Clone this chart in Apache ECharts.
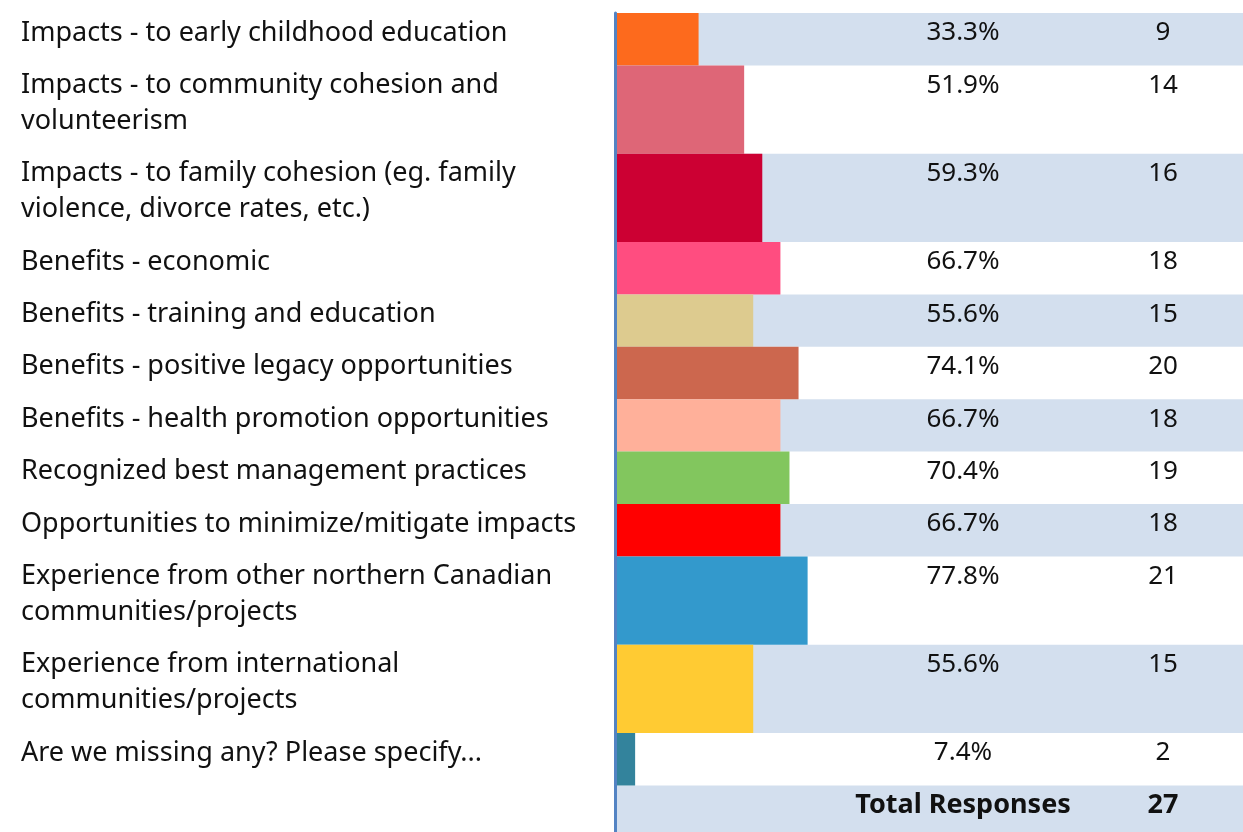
<!DOCTYPE html>
<html>
<head>
<meta charset="utf-8">
<title>Survey responses</title>
<script src="https://cdn.jsdelivr.net/npm/echarts@6/dist/echarts.min.js"></script>
<style>
  html, body { margin: 0; padding: 0; background: #fff; }
  #chart { width: 1243px; height: 832px; }
</style>
</head>
<body>
<div id="chart"></div>
<script>
// Survey items (line breaks follow the wrapped labels)
const categories = [
  'Impacts - to early childhood education',
  'Impacts - to community cohesion and\nvolunteerism',
  'Impacts - to family cohesion (eg. family\nviolence, divorce rates, etc.)',
  'Benefits - economic',
  'Benefits - training and education',
  'Benefits - positive legacy opportunities',
  'Benefits - health promotion opportunities',
  'Recognized best management practices',
  'Opportunities to minimize/mitigate impacts',
  'Experience from other northern Canadian\ncommunities/projects',
  'Experience from international\ncommunities/projects',
  'Are we missing any? Please specify...'
];
// Share of respondents (%)
const percents = [33.3, 51.9, 59.3, 66.7, 55.6, 74.1, 66.7, 70.4, 66.7, 77.8, 55.6, 7.4];
// Number of respondents
const counts = [9, 14, 16, 18, 15, 20, 18, 19, 18, 21, 15, 2];
const totalLabel = 'Total Responses';
const totalCount = 27;

// Bar palette, one colour per item
const barColors = ['#FD6A1D', '#DE6677', '#CC0033', '#FF4D80', '#DDCB8F', '#CC674E',
                   '#FFB09A', '#82C65E', '#FF0000', '#3399CC', '#FFCB33', '#33839C'];

// Layout
const CHART_W = 1243;
const CHART_H = 832;
const LINE_H = 35.9;       // text line height in px
const ROW_PAD = 16.5;      // extra space per row
const TEXT_DY = 2;         // text offset below the row top
const FONT = 'Noto Sans';
const LABEL_SIZE = 27;
const NUM_SIZE = 26;
const GRID_LEFT = 617;
const GRID_TOP = 13;
const PX_PER_PCT = 2.45;   // bar length for 1 %
const LABEL_X = 21;
const PCT_X = 963;
const COUNT_X = 1163;
const BAND_COLOR = '#D3DFEE';

// Row bands in y-axis units (one unit = one pixel of text layout)
const rowLabels = categories.concat(['']);
const tops = [];
const bottoms = [];
let acc = 0;
rowLabels.forEach(function (lab) {
  const lines = Math.max(1, lab.split('\n').length);
  tops.push(acc);
  acc += lines * LINE_H + ROW_PAD;
  bottoms.push(acc);
});
// the last (total) row runs off the bottom edge
const yMax = CHART_H - GRID_TOP;
const xMax = (CHART_W - GRID_LEFT) / PX_PER_PCT;

const rowData = rowLabels.map(function (_, i) { return [i, tops[i], Math.min(bottoms[i], yMax)]; });
const barData = percents.map(function (p, i) { return [p, tops[i], bottoms[i], i]; });

function txt(x, y, text, size, align, bold) {
  return {
    type: 'text', x: x, y: y + TEXT_DY,
    style: {
      text: text, fontFamily: FONT, fontSize: size, fontWeight: bold ? 'bold' : 'normal',
      fill: '#111', lineHeight: LINE_H, align: align, verticalAlign: 'top'
    }
  };
}

const chart = echarts.init(document.getElementById('chart'), null, { renderer: 'canvas' });
chart.setOption({
  animation: false,
  backgroundColor: '#fff',
  grid: { left: GRID_LEFT, top: GRID_TOP, right: 0, bottom: 0, containLabel: false },
  xAxis: {
    type: 'value', min: 0, max: xMax, show: false
  },
  yAxis: {
    type: 'value', min: 0, max: yMax, inverse: true, offset: 1.5,
    axisLine: { show: true, onZero: false, lineStyle: { color: '#5383C3', width: 3 } },
    axisTick: { show: false }, axisLabel: { show: false }, splitLine: { show: false }
  },
  series: [
    {
      // alternating row bands with label, percent and count text
      type: 'custom',
      coordinateSystem: 'cartesian2d',
      data: rowData,
      encode: { x: -1, y: [1, 2] },
      clip: false,
      z: 1,
      renderItem: function (params, api) {
        const i = api.value(0);
        const yTop = api.coord([0, api.value(1)])[1];
        const yBot = api.coord([0, api.value(2)])[1];
        const x0 = api.coord([0, 0])[0];
        const x1 = api.coord([xMax, 0])[0];
        const children = [];
        if (i % 2 === 0) {
          children.push({ type: 'rect', shape: { x: x0, y: yTop, width: x1 - x0, height: yBot - yTop },
                          style: { fill: BAND_COLOR } });
        }
        if (i < categories.length) {
          children.push(txt(LABEL_X, yTop, categories[i], LABEL_SIZE, 'left', false));
          children.push(txt(PCT_X, yTop, percents[i].toFixed(1) + '%', NUM_SIZE, 'center', false));
          children.push(txt(COUNT_X, yTop, String(counts[i]), NUM_SIZE, 'center', false));
        } else {
          children.push(txt(PCT_X, yTop, totalLabel, LABEL_SIZE, 'center', true));
          children.push(txt(COUNT_X, yTop, String(totalCount), LABEL_SIZE, 'center', true));
        }
        return { type: 'group', children: children };
      }
    },
    {
      // bars sized by percent
      type: 'custom',
      coordinateSystem: 'cartesian2d',
      data: barData,
      encode: { x: 0, y: [1, 2] },
      clip: false,
      z: 2,
      renderItem: function (params, api) {
        const p0 = api.coord([0, api.value(1)]);
        const p1 = api.coord([api.value(0), api.value(2)]);
        return { type: 'rect', shape: { x: p0[0], y: p0[1], width: p1[0] - p0[0], height: p1[1] - p0[1] },
                 style: { fill: barColors[api.value(3)] } };
      }
    }
  ]
});
</script>
</body>
</html>
